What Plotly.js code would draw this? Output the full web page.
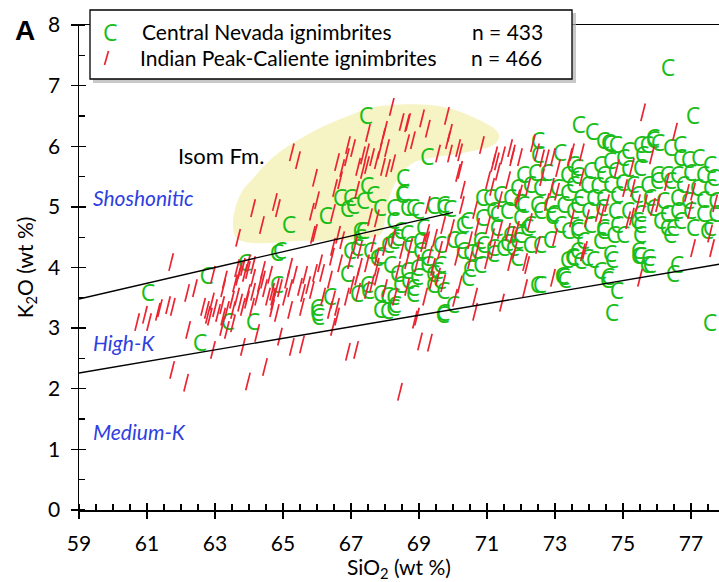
<!DOCTYPE html>
<html><head><meta charset="utf-8">
<script src="https://cdn.plot.ly/plotly-3.0.1.min.js"></script>
<style>html,body{margin:0;padding:0;background:#fff}#chart{width:719px;height:582px}</style>
</head><body><div id="chart"></div>
<script>
// ---- data (SiO2 wt%, K2O wt%) ----
const centralNevada = [
[76.32,7.25],[77.06,6.47],[73.7,6.31],[74.09,6.2],[74.41,6.05],[74.6,6.0],[67.44,6.46],[69.24,5.79],[68.53,5.44],
[61.03,3.55],[62.76,3.83],[63.88,4.04],[62.56,2.71],[63.38,3.06],[64.12,3.06],[64.91,4.24],[65.18,4.67],[66.26,4.82],[64.82,3.68],
[66.0,3.3],[66.0,3.22],[66.03,3.14],
[74.68,3.22],[77.56,3.05],[74.82,3.58],[74.53,3.76],[76.47,3.86],[75.7,4.01],[75.44,4.16],[74.68,4.09],[74.32,3.91],[73.5,4.14],[74.12,4.09],[72.47,3.68],[73.29,3.75],[73.2,3.83],[70.0,3.35],[69.7,3.18],[70.44,3.79],[70.5,3.93],[70.8,4.01],[73.74,4.07],
[72.5,6.05],[72.5,5.82],[73.15,5.85],[73.53,5.66],[72.06,5.49],[72.41,5.52],[72.76,5.52],[73.35,5.49],[73.65,5.47],[71.88,5.28],[72.26,5.33],[72.56,5.28],[73.06,5.28],[73.35,5.2],[70.85,5.11],[71.09,5.11],[71.38,5.16],[71.68,5.11],[71.97,5.03],[72.47,5.0],[72.85,5.0],[73.24,5.0],[73.65,5.0],[69.41,4.98],[69.91,4.92],[70.41,4.73],[70.85,4.78],[71.29,4.84],[71.59,4.9],[71.97,4.78],[72.26,4.67],[72.56,4.9],[72.91,4.81],[73.15,4.67],[73.38,4.56],[73.65,4.56],[69.12,4.62],[71.29,4.62],[71.68,4.5],[71.97,4.5],[72.18,4.62],[71.59,4.37],[71.88,4.4],[70.88,4.34],[70.71,4.24],[71.18,4.29],[72.26,4.34],[72.56,4.34],[72.85,4.42],[70.29,4.24],[70.0,4.42],[69.62,4.34],[71.88,4.12],[73.53,4.12],[70.29,4.67],[69.71,5.0],
[74.56,6.02],[75.88,6.07],[76.03,6.02],[76.38,5.93],[76.68,5.77],[76.91,5.74],[77.21,5.77],[77.56,5.66],[75.15,5.88],[75.5,5.99],[75.56,5.82],[75.0,5.77],[74.62,5.72],[74.32,5.66],[73.65,5.61],[74.03,5.56],[74.41,5.49],[74.76,5.56],[75.15,5.58],[75.5,5.61],[76.0,5.49],[76.29,5.49],[76.59,5.49],[76.97,5.52],[77.35,5.49],[77.65,5.44],[73.53,5.33],[73.94,5.33],[74.24,5.31],[74.62,5.33],[74.97,5.36],[75.29,5.33],[75.71,5.33],[76.0,5.39],[76.38,5.39],[76.76,5.33],[77.18,5.28],[77.56,5.28],[73.74,5.11],[74.12,5.11],[74.41,5.11],[74.82,5.16],[75.41,5.16],[75.79,5.11],[76.18,5.06],[76.59,5.11],[76.91,5.06],[77.35,5.08],[77.71,5.06],[73.53,4.9],[73.97,4.9],[74.38,4.95],[74.76,4.9],[75.15,4.9],[75.5,4.84],[75.88,4.95],[76.29,4.84],[76.59,4.9],[76.97,4.9],[77.35,4.84],[77.71,4.84],[73.65,4.62],[74.03,4.67],[74.41,4.62],[74.82,4.67],[75.41,4.73],[76.29,4.62],[76.68,4.73],[77.06,4.62],[77.56,4.62],[73.82,4.4],[74.32,4.4],[74.71,4.5],[75.5,4.5],[76.38,4.5],[73.65,4.24],[73.94,4.12],[74.62,4.18],[75.44,4.24],[75.74,4.12],[76.59,4.01],
[68.24,3.3],[68.06,3.25],[72.56,3.68],[73.24,3.8],[74.56,3.8],[75.5,4.15],[75.79,4.01],[73.35,4.09],[67.85,4.95],[68.65,4.95],[68.97,4.9],[69.71,4.95],[71.18,4.9],[72.06,5.0],[72.94,4.84],[74.41,4.56],[75.0,4.5],[75.5,4.67],[76.09,4.73],[76.47,4.62],[77.47,4.56],[67.26,4.45],[67.56,4.24],[67.85,4.15],[68.44,4.56],[68.74,4.34],[69.03,4.24],[69.24,4.01],[69.41,3.85],[69.62,3.74],[69.62,4.01],[70.21,4.4],[70.5,4.21],[70.79,4.4],[71.18,4.18],[71.47,4.29],[71.76,4.29],[68.44,3.68],[68.82,3.63],[67.85,3.52],[67.47,3.68],[68.24,3.47],[68.94,3.8],[68.65,3.91],
[64.82,4.21],[66.38,3.47],[66.97,4.24],[67.18,4.29],[66.88,3.85],[67.18,3.52],[67.5,3.58],[67.85,3.27],[68.06,3.5],[68.29,3.35],[68.15,4.01],[68.35,3.85],[68.82,3.52],[68.68,3.74],[68.09,4.34],[68.35,4.45],[69.03,4.4],[69.24,4.12],[68.94,3.96],[69.41,3.68],[69.71,3.58],[69.71,3.22],[67.76,4.12],[67.26,4.57],[69.53,3.91],
[66.68,5.11],[66.97,5.11],[66.88,4.92],[67.06,4.98],[67.35,5.06],[67.47,5.31],[67.65,5.16],[67.35,4.57],[68.5,5.16],[68.24,4.95],[68.82,4.95],[68.24,4.73],[68.24,4.4],[68.65,4.51],
[74.79,5.99],[76.68,5.99],[75.7,5.99],[75.88,6.1],[68.53,5.19]
];
const indianPeakCaliente = [
[61.71,4.09],[63.68,4.49],[60.71,3.1],[60.94,3.22],[61.06,3.1],[61.32,3.27],[61.38,3.33],[61.62,3.38],[61.76,3.35],[62.18,3.58],[62.41,3.66],[62.21,2.97],[62.91,3.44],[62.65,3.35],[61.74,2.31],[62.15,2.1],[62.94,2.64],[63.82,2.69],[63.97,2.12],[64.47,2.36],[63.29,3.8],[63.74,3.96],[64.12,4.04],[64.41,3.96],[64.62,3.88],
[62.76,3.3],[62.85,3.19],[63.0,3.33],[63.09,3.25],[63.21,3.38],[63.24,3.19],[63.35,3.3],[63.5,3.47],[63.53,3.3],[63.65,3.52],[63.74,3.42],[63.82,3.35],[63.94,3.47],[63.97,3.58],[64.09,3.35],[64.12,3.6],[64.24,3.52],[64.32,3.74],[64.41,3.8],[64.47,3.66],[64.56,3.52],[64.68,3.6],[64.71,3.44],[64.82,3.68],[63.59,3.74],[63.68,3.85],[63.88,3.91],[64.12,3.83],[63.65,3.99],[63.82,4.01],[63.97,4.07],[63.21,3.02],[63.35,2.97],[63.53,3.08],[64.24,2.92],[62.79,3.22],[63.24,3.66],[63.97,3.96],[62.94,3.88],
[65.88,4.54],[66.62,4.54],[66.74,4.45],[67.12,4.37],[66.47,4.34],[66.44,4.18],[66.68,4.07],[67.26,4.29],[67.26,4.01],[67.65,4.4],[67.76,4.01],[65.21,4.01],[65.35,3.88],[65.12,3.8],[64.91,3.66],[64.71,3.52],[64.68,3.33],[64.82,3.25],[65.06,3.52],[65.21,3.66],[65.5,3.68],[65.59,3.58],[65.74,3.71],[65.85,3.63],[65.65,3.88],[65.94,3.91],[66.15,3.91],[66.09,4.07],[66.38,3.8],[66.18,3.52],[66.47,3.47],[66.59,3.35],[66.38,3.3],[66.59,3.19],[66.47,3.02],[65.56,3.35],[65.21,3.3],[66.88,3.52],[67.03,3.71],[67.18,3.85],[67.21,3.6],[67.47,3.63],[67.62,3.74],[67.76,3.85],[68.0,3.66],[68.29,3.52],[68.38,3.96],[68.5,4.29],[68.74,4.34],[69.18,3.52],[68.88,3.14],[69.56,3.85],[69.71,3.74],[69.41,4.01],[66.97,4.12],[67.47,4.07],[67.76,4.18],[68.0,4.34],[68.24,4.49],[68.65,4.12],[68.94,4.07],[69.24,4.45],[64.91,2.86],[65.26,2.69],[65.56,2.73],[66.91,2.61],[67.15,2.64],[69.03,2.78],[69.32,2.76],[68.44,1.95],[68.94,3.19],[68.65,3.68],
[68.2,6.65],[68.49,6.4],[68.68,6.4],[68.0,6.27],[67.94,6.15],[68.06,5.97],[67.5,6.22],[67.47,5.9],[66.91,6.02],[67.06,5.97],[66.88,5.82],[67.35,5.85],[67.62,5.82],[67.76,5.77],[67.85,5.93],[67.94,5.66],[67.47,5.69],[67.21,5.66],[66.59,5.74],[66.74,5.64],[66.68,5.44],[66.53,5.31],[65.94,5.48],[66.0,5.11],[65.85,4.92],[65.26,5.9],[65.44,5.77],[64.76,5.08],[64.85,4.98],[64.12,4.98],[64.38,4.7],[65.94,4.57],[66.47,4.9],[67.18,5.28],[67.56,4.83],[67.76,4.81],[68.24,5.72],[68.09,5.64],[67.35,5.61],[68.82,6.1],[68.65,6.38],
[69.09,6.46],[69.26,6.29],[69.82,6.5],[69.91,6.22],[68.65,6.05],[70.15,5.97],[70.85,6.02],[69.56,5.88],[69.91,5.88],[70.21,5.9],[71.24,5.85],[71.47,5.85],[71.74,5.82],[71.97,5.82],[72.35,6.05],[72.76,5.8],[72.94,5.82],[73.44,5.82],[73.79,5.9],[70.15,5.56],[71.18,5.72],[75.59,6.56],[76.53,6.24],[75.85,5.85],[73.09,5.64],[73.79,5.49],[74.82,5.64],[75.26,5.66],
[69.85,6.1],[71.29,5.75],[71.68,5.97],[71.76,5.88],[72.47,5.9],[72.62,5.8],[73.5,5.9],[70.21,5.61],[71.32,5.58],[71.03,5.44],[71.62,5.44],[70.29,5.28],[71.15,5.33],[71.97,5.22],[72.21,5.33],[72.62,5.49],[72.91,5.33],[70.26,5.03],[70.65,4.95],[71.38,5.11],[71.9,5.14],[72.76,5.08],[73.06,5.25],[69.26,5.03],[69.71,4.7],[69.97,4.65],[70.71,4.67],[71.03,4.7],[71.38,4.62],[71.62,4.59],[71.88,4.62],[72.26,4.75],[72.5,4.37],[73.0,4.5],[69.24,4.57],[69.47,4.49],[69.12,4.4],[69.85,4.4],[70.5,4.45],[70.71,4.29],[71.15,4.5],[71.18,4.29],[71.74,4.54],[71.82,4.29],[70.12,4.18],[70.5,4.12],[71.0,4.12],[72.12,4.09],[69.32,4.21],[69.62,4.29],
[70.65,3.27],[71.44,3.42],[72.12,3.66],[72.94,3.83],[75.5,3.83],[77.06,4.32],[77.62,4.32],[69.38,3.79],[70.2,3.72],[70.06,3.5],[73.82,4.25],[71.68,4.09],[72.18,4.04],[70.65,3.52],
[75.06,5.31],[75.29,5.31],[76.29,5.41],[76.88,5.23],[77.06,5.25],[75.44,5.06],[75.65,5.06],[75.88,5.0],[76.03,5.06],[76.97,4.95],[77.71,5.06],[74.53,5.06],[74.26,4.9],[74.38,4.87],[73.94,4.81],[73.5,4.81],[75.15,4.78],[75.26,4.84],[73.88,4.29],[77.56,4.56]
];
// Isom Formation field outline
const isomSiO2 = [63.53,63.62,63.82,64.12,64.56,65.12,66.09,66.97,67.62,68.44,69.32,70.06,70.79,71.26,71.35,71.09,70.29,69.47,68.88,68.44,68.15,68.0,67.79,66.68,65.5,64.47,63.88,63.59];
const isomK2O  = [4.75,5.03,5.28,5.47,5.74,5.99,6.3,6.51,6.64,6.69,6.68,6.6,6.43,6.27,6.13,5.99,5.89,5.82,5.74,5.52,5.19,4.78,4.52,4.45,4.44,4.4,4.42,4.52];
// Boundary lines (Peccerillo & Taylor series)
const shoshLineSiO2 = [59, 70];
const shoshLineK2O  = [3.48, 4.91];
const highKLineSiO2 = [59, 78];
const highKLineK2O  = [2.26, 4.07];
const legendLabels = ['Central Nevada ignimbrites', 'Indian Peak-Caliente ignimbrites'];
const legendCounts = ['n = 433', 'n = 466'];
const fieldLabels = ['Shoshonitic', 'High-K', 'Medium-K'];
const fieldLabelK2O = [5.16, 2.76, 1.29];

// ---- drawing ----
const GREEN = '#19bd19', RED = '#ea2430', BLUE = '#2f3fe0';
const FONT = 'Lato, "Open Sans", sans-serif';
const CFONT = '"Open Sans", "Noto Sans", sans-serif';

function smoothClosedPath(xs, ys) {
  const n = xs.length;
  let d = `M${xs[0]},${ys[0]}`;
  for (let i = 0; i < n; i++) {
    const i0 = (i - 1 + n) % n, i2 = (i + 1) % n, i3 = (i + 2) % n;
    const c1x = xs[i] + (xs[i2] - xs[i0]) / 6, c1y = ys[i] + (ys[i2] - ys[i0]) / 6;
    const c2x = xs[i2] - (xs[i3] - xs[i]) / 6, c2y = ys[i2] - (ys[i3] - ys[i]) / 6;
    d += ` C${c1x},${c1y} ${c2x},${c2y} ${xs[i2]},${ys[i2]}`;
  }
  return d + ' Z';
}

const traces = [
  {
    x: centralNevada.map(p => p[0]), y: centralNevada.map(p => p[1]),
    mode: 'text', text: centralNevada.map(() => 'C'),
    textfont: {family: CFONT, size: 23, color: GREEN},
    textposition: 'middle center', hoverinfo: 'skip', showlegend: false
  },
  {
    x: indianPeakCaliente.map(p => p[0]), y: indianPeakCaliente.map(p => p[1]),
    mode: 'markers', type: 'scatter',
    marker: {symbol: 'line-ns', size: 13, angle: 14, line: {color: RED, width: 1.7}},
    hoverinfo: 'skip', showlegend: false
  },
  {x: shoshLineSiO2, y: shoshLineK2O, xaxis: 'x2', yaxis: 'y2', mode: 'lines',
   line: {color: '#000', width: 1.3}, hoverinfo: 'skip', showlegend: false},
  {x: highKLineSiO2, y: highKLineK2O, xaxis: 'x2', yaxis: 'y2', mode: 'lines',
   line: {color: '#000', width: 1.3}, hoverinfo: 'skip', showlegend: false}
];

const W = 719, H = 582, M = {l: 79, r: 0, t: 25, b: 72};
const pw = W - M.l - M.r, ph = H - M.t - M.b;
const px = v => (v - M.l) / pw;
const py = v => (H - M.b - v) / ph;

const xr = [59, 59 + pw / 34];
const yr = [0, 8];
const axBase = {showgrid: false, zeroline: false, fixedrange: true};

const layout = {
  width: W, height: H, margin: M,
  paper_bgcolor: '#fff', plot_bgcolor: '#fff',
  font: {family: FONT, color: '#000'},
  showlegend: false,
  xaxis: Object.assign({}, axBase, {
    range: xr, tickmode: 'linear', tick0: 59, dtick: 2,
    ticks: 'outside', ticklen: 7, tickwidth: 1.4, tickcolor: '#000',
    showline: true, linewidth: 1.5, linecolor: '#000', mirror: true,
    tickfont: {family: FONT, size: 21, color: '#000'}, ticklabelstandoff: 7,
    minor: {ticks: 'inside', tick0: 59, dtick: 0.5, ticklen: 6, tickwidth: 1.2, tickcolor: '#000', showgrid: false},
    title: {text: 'SiO<sub>2</sub> (wt %)', font: {family: FONT, size: 21, color: '#000'}, standoff: 4}
  }),
  yaxis: Object.assign({}, axBase, {
    range: yr, tickmode: 'linear', tick0: 0, dtick: 1,
    ticks: 'outside', ticklen: 7, tickwidth: 1.4, tickcolor: '#000',
    showline: true, linewidth: 1.5, linecolor: '#000',
    tickfont: {family: FONT, size: 21, color: '#000'}, ticklabelstandoff: 6,
    minor: {ticks: 'inside', tick0: 0, dtick: 0.5, ticklen: 6, tickwidth: 1.2, tickcolor: '#000', showgrid: false},
    title: {text: 'K<sub>2</sub>O (wt %)', font: {family: FONT, size: 21, color: '#000'}, standoff: 9}
  }),
  xaxis2: Object.assign({}, axBase, {
    overlaying: 'x', anchor: 'y2', side: 'bottom', range: xr,
    tickmode: 'linear', tick0: 59, dtick: 2, ticks: 'inside', ticklen: 7, tickwidth: 1.4,
    tickcolor: '#000', showticklabels: false, showline: false
  }),
  yaxis2: Object.assign({}, axBase, {
    overlaying: 'y', anchor: 'x2', side: 'left', range: yr,
    tickmode: 'linear', tick0: 0, dtick: 1, ticks: 'inside', ticklen: 7, tickwidth: 1.4,
    tickcolor: '#000', showticklabels: false, showline: false
  }),
  shapes: [
    {type: 'path', xref: 'x', yref: 'y', layer: 'below', path: smoothClosedPath(isomSiO2, isomK2O),
     fillcolor: '#f6f4c4', line: {width: 0}},
    // legend box shadow + box
    {type: 'rect', xref: 'paper', yref: 'paper', layer: 'above',
     x0: px(93), x1: px(576), y0: py(83), y1: py(13), fillcolor: '#b0b0b0', opacity: 0.7, line: {width: 0}},
    {type: 'rect', xref: 'paper', yref: 'paper', layer: 'above',
     x0: px(90), x1: px(572), y0: py(79), y1: py(10), fillcolor: '#fff', line: {color: '#000', width: 1.3}},
    {type: 'line', xref: 'paper', yref: 'paper', layer: 'above',
     x0: px(104.5), x1: px(108.5), y0: py(65), y1: py(51), line: {color: RED, width: 1.7}}
  ],
  annotations: [
    {xref: 'paper', yref: 'paper', x: px(25), y: py(31), text: '<b>A</b>', showarrow: false,
     font: {family: 'Liberation Sans, Arial, sans-serif', size: 28, color: '#000'}, xanchor: 'center', yanchor: 'middle'},
    {xref: 'paper', yref: 'paper', x: px(110), y: py(32), text: 'C', showarrow: false,
     font: {family: CFONT, size: 23, color: GREEN}, xanchor: 'center', yanchor: 'middle'},
    {xref: 'paper', yref: 'paper', x: px(140), y: py(32), text: legendLabels[0], showarrow: false,
     font: {family: FONT, size: 21, color: '#000'}, xanchor: 'left', yanchor: 'middle'},
    {xref: 'paper', yref: 'paper', x: px(138), y: py(58), text: legendLabels[1], showarrow: false,
     font: {family: FONT, size: 21, color: '#000'}, xanchor: 'left', yanchor: 'middle'},
    {xref: 'paper', yref: 'paper', x: px(545), y: py(32), text: legendCounts[0], showarrow: false,
     font: {family: FONT, size: 21, color: '#000'}, xanchor: 'right', yanchor: 'middle'},
    {xref: 'paper', yref: 'paper', x: px(544), y: py(58), text: legendCounts[1], showarrow: false,
     font: {family: FONT, size: 21, color: '#000'}, xanchor: 'right', yanchor: 'middle'},
    {xref: 'x', yref: 'y', x: 61.85, y: 5.85, text: 'Isom Fm.', showarrow: false,
     font: {family: FONT, size: 22, color: '#000'}, xanchor: 'left', yanchor: 'middle'}
  ].concat(fieldLabels.map((t, i) => ({
    xref: 'x', yref: 'y', x: 59.35, y: fieldLabelK2O[i], text: '<i>' + t + '</i>', showarrow: false,
    font: {family: FONT, size: 21, color: BLUE}, xanchor: 'left', yanchor: 'middle'
  })))
};

Plotly.newPlot('chart', traces, layout, {staticPlot: true, displayModeBar: false});
</script>
</body></html>
